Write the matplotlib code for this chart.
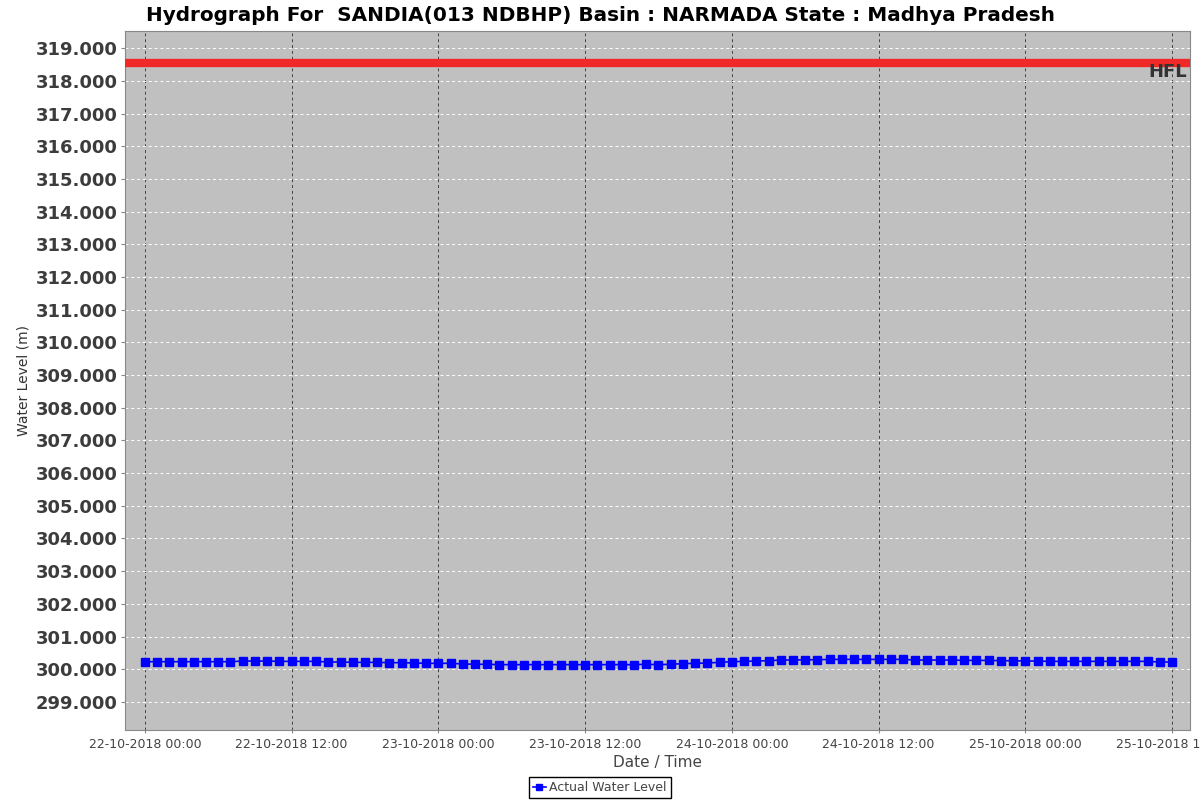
import pandas as pd
import matplotlib
matplotlib.use('Agg')
import matplotlib.pyplot as plt
import matplotlib.dates as mdates

# Hourly water level readings (m), starting 22-10-2018 00:00
levels = [
    300.23, 300.23, 300.23, 300.23, 300.23, 300.23, 300.23, 300.23,
    300.25, 300.25, 300.25, 300.24, 300.24, 300.24, 300.24, 300.22,
    300.22, 300.21, 300.21, 300.21, 300.20, 300.20, 300.19, 300.18,
    300.18, 300.18, 300.16, 300.15, 300.15, 300.14, 300.14, 300.14,
    300.14, 300.14, 300.14, 300.14, 300.14, 300.14, 300.14, 300.14,
    300.14, 300.15, 300.14, 300.15, 300.17, 300.18, 300.19, 300.21,
    300.23, 300.24, 300.25, 300.26, 300.28, 300.28, 300.29, 300.29,
    300.30, 300.30, 300.30, 300.30, 300.30, 300.30, 300.30, 300.28,
    300.28, 300.28, 300.28, 300.27, 300.27, 300.27, 300.26, 300.26,
    300.25, 300.25, 300.24, 300.24, 300.24, 300.24, 300.24, 300.24,
    300.24, 300.24, 300.24, 300.22, 300.22,
]
times = pd.date_range(start='2018-10-22 00:00', periods=len(levels), freq='h')

hfl = 318.54
titulo = 'Hydrograph For  SANDIA(013 NDBHP) Basin : NARMADA State : Madhya Pradesh'

fig = plt.figure(figsize=(12, 8), dpi=100)
ax = fig.add_axes([0.104, 0.0875, 0.888, 0.8735])
ax.set_facecolor('#c0c0c0')

ax.axhline(hfl, color='#f02828', linewidth=6, zorder=3)
ax.text(0.997, hfl + 0.02, 'HFL', transform=ax.get_yaxis_transform(),
        ha='right', va='top', fontsize=13, fontweight='bold', color='#333333')

ax.plot(times, levels, color='#0000ff', linewidth=1.2, marker='s',
        markersize=5.5, label='Actual Water Level', zorder=4)

# eixos
ax.set_ylim(298.14, 319.52)
ax.set_yticks(range(299, 320))
ax.yaxis.set_major_formatter(matplotlib.ticker.FormatStrFormatter('%.3f'))
x0 = pd.Timestamp('2018-10-22 00:00')
ax.set_xlim(x0 - pd.Timedelta(hours=1.64), x0 + pd.Timedelta(hours=85.5))
ax.xaxis.set_major_locator(mdates.HourLocator(byhour=[0, 12]))
ax.xaxis.set_major_formatter(mdates.DateFormatter('%d-%m-%Y %H:%M'))

ax.grid(axis='y', color='white', linestyle=(0, (3, 3)), linewidth=0.7)
ax.grid(axis='x', color='#444444', linestyle=(0, (3, 3)), linewidth=0.7)
ax.set_axisbelow(True)

for lab in ax.get_yticklabels():
    lab.set_fontweight('bold')
ax.tick_params(axis='y', labelsize=13, labelcolor='#3c3c3c', color='#888888',
               length=3, pad=2)
ax.tick_params(axis='x', labelsize=9, labelcolor='#444444', color='#888888', length=2)
for s in ax.spines.values():
    s.set_color('#888888')

ax.set_ylabel('Water Level (m)', fontsize=10, color='#333333')
ax.set_xlabel('Date / Time', fontsize=11, color='#444444', labelpad=3)
fig.suptitle(titulo, x=0.5, y=0.993, va='top', fontsize=14.4, fontweight='bold')

leg = fig.legend(loc='lower center', bbox_to_anchor=(0.5, -0.005), fontsize=9,
                 fancybox=False, edgecolor='black', framealpha=1, handlelength=1,
                 handletextpad=0.3, borderpad=0.3, markerscale=0.75)
leg.get_frame().set_linewidth(1)
for t in leg.get_texts():
    t.set_color('#444444')

fig.savefig('out.png', dpi=100)
